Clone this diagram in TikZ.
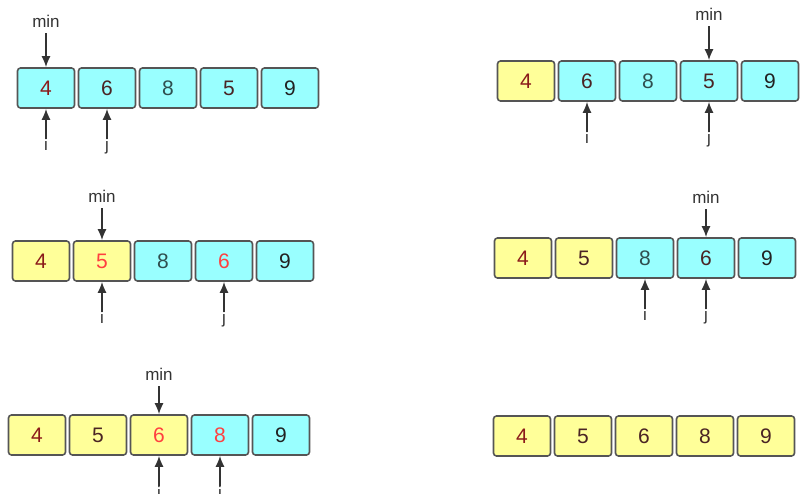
\documentclass[tikz,border=0pt]{standalone}
\usepackage{fontspec}
\setmainfont{Liberation Sans}
\usetikzlibrary{positioning,arrows.meta}

\definecolor{cellcyan}{HTML}{99FFFF}
\definecolor{cellyellow}{HTML}{FFFF99}
\definecolor{cellframe}{HTML}{555555}
\definecolor{numfirst}{HTML}{8B1A1A}
\definecolor{numdark}{HTML}{4A2424}
\definecolor{numslate}{HTML}{2F4F4F}
\definecolor{numblack}{HTML}{222222}
\definecolor{numred}{HTML}{FF4040}
\definecolor{ptrgray}{HTML}{333333}

\tikzset{
  cellbox/.style={rectangle,rounded corners=3pt,draw=cellframe,line width=1.6pt,
    minimum width=57pt,minimum height=40pt,inner sep=0pt,
    font=\fontsize{21}{21}\selectfont},
  ptr/.style={inner sep=1pt,text=ptrgray,text height=11pt,text depth=4pt,
    font=\fontsize{17}{17}\selectfont},
  ptrarrow/.style={draw=ptrgray,line width=1.6pt,-{Latex[length=11pt,width=9pt]}}
}

% one row of five cells: name, left, top, list value/fill/text
\newcommand\cellrow[4]{%
  \foreach \v/\f/\c [count=\k] in {#4}
    \node[cellbox,fill=\f,text=\c] (#1c\k) at (#2+29+61*\k-61,#3+20) {\v};}

\begin{document}
\begin{tikzpicture}[x=1pt,y=-1pt]
\clip (0,0) rectangle (809,494);

% rows
\cellrow{ra}{17}{68}{4/cellcyan/numfirst,6/cellcyan/numdark,8/cellcyan/numslate,5/cellcyan/numdark,9/cellcyan/numblack}
\cellrow{rb}{497}{61}{4/cellyellow/numfirst,6/cellcyan/numdark,8/cellcyan/numslate,5/cellcyan/numdark,9/cellcyan/numblack}
\cellrow{rc}{12}{241}{4/cellyellow/numfirst,5/cellyellow/numred,8/cellcyan/numslate,6/cellcyan/numred,9/cellcyan/numblack}
\cellrow{rd}{494}{238}{4/cellyellow/numfirst,5/cellyellow/numdark,8/cellcyan/numslate,6/cellcyan/numdark,9/cellcyan/numblack}
\cellrow{re}{8}{415}{4/cellyellow/numfirst,5/cellyellow/numdark,6/cellyellow/numred,8/cellcyan/numred,9/cellcyan/numblack}
\cellrow{rf}{493}{416}{4/cellyellow/numfirst,5/cellyellow/numdark,6/cellyellow/numdark,8/cellyellow/numdark,9/cellyellow/numdark}

% pointers
\node (mina) [ptr,above=34pt of rac1] {min};
\node (ia) [ptr,below=30pt of rac1] {i};
\node (ja) [ptr,below=30pt of rac2] {j};
\draw[ptrarrow] (mina) -- (rac1);
\draw[ptrarrow] (ia) -- (rac1);
\draw[ptrarrow] (ja) -- (rac2);

\node (minb) [ptr,above=34pt of rbc4] {min};
\node (ib) [ptr,below=30pt of rbc2] {i};
\node (jb) [ptr,below=30pt of rbc4] {j};
\draw[ptrarrow] (minb) -- (rbc4);
\draw[ptrarrow] (ib) -- (rbc2);
\draw[ptrarrow] (jb) -- (rbc4);

\node (minc) [ptr,above=32pt of rcc2] {min};
\node (ic) [ptr,below=30pt of rcc2] {i};
\node (jc) [ptr,below=30pt of rcc4] {j};
\draw[ptrarrow] (minc) -- (rcc2);
\draw[ptrarrow] (ic) -- (rcc2);
\draw[ptrarrow] (jc) -- (rcc4);

\node (mind) [ptr,above=28pt of rdc4] {min};
\node (id) [ptr,below=30pt of rdc3] {i};
\node (jd) [ptr,below=30pt of rdc4] {j};
\draw[ptrarrow] (mind) -- (rdc4);
\draw[ptrarrow] (id) -- (rdc3);
\draw[ptrarrow] (jd) -- (rdc4);

\node (mine) [ptr,above=28pt of rec3] {min};
\node (ie) [ptr,below=30pt of rec3] {i};
\node (je) [ptr,below=30pt of rec4] {j};
\draw[ptrarrow] (mine) -- (rec3);
\draw[ptrarrow] (ie) -- (rec3);
\draw[ptrarrow] (je) -- (rec4);

\end{tikzpicture}
\end{document}
